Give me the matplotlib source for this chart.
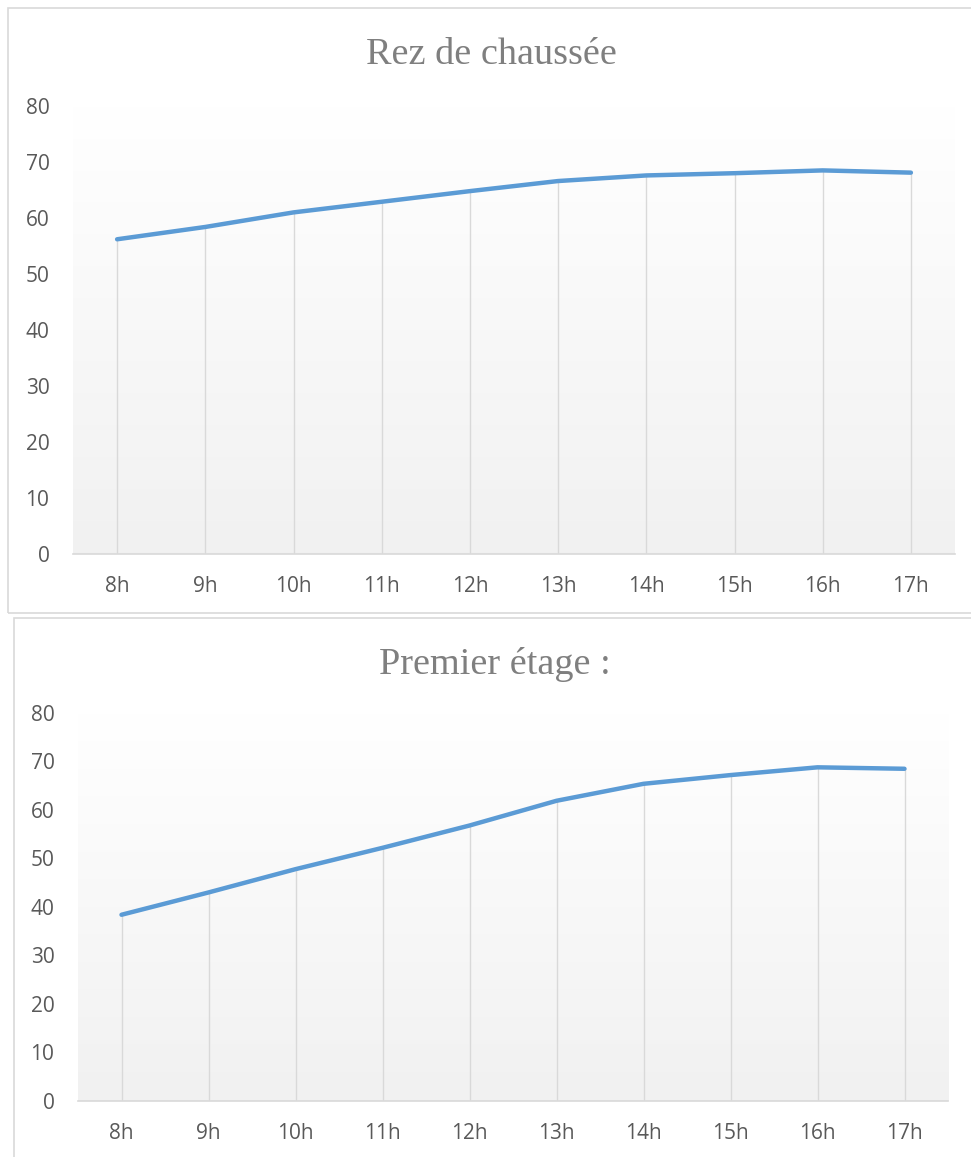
import numpy as np
import matplotlib
matplotlib.use('Agg')
import matplotlib.pyplot as plt
from matplotlib.patches import Rectangle

# --- data ---
hours = ['8h', '9h', '10h', '11h', '12h', '13h', '14h', '15h', '16h', '17h']
rez_de_chaussee = [56.2, 58.4, 61.0, 62.9, 64.8, 66.6, 67.6, 68.0, 68.5, 68.1]
premier_etage = [38.4, 43.0, 47.8, 52.2, 56.8, 61.9, 65.4, 67.2, 68.8, 68.5]
y_ticks = [0, 10, 20, 30, 40, 50, 60, 70, 80]

W, H = 971, 1157
LINE = '#5b9bd5'
GRID = '#d9d9d9'
TXT = '#595959'
TICK_FONT = ['Open Sans', 'DejaVu Sans']


def panel(fig, x0, y0, x1, y1):
    # chart-area frame, pixel coords from top-left
    fig.patches.append(Rectangle((x0 / W, 1 - y1 / H), (x1 - x0) / W, (y1 - y0) / H,
                                 transform=fig.transFigure, fill=False,
                                 edgecolor=GRID, linewidth=1.2))


def draw(ax, values, title, title_xy):
    x = np.arange(len(hours))
    # soft vertical gradient in the plot area
    grad = np.linspace(1.0, 0.945, 256).reshape(-1, 1)
    ax.imshow(np.dstack([grad, grad, grad]), extent=[0, 1, 0, 1], transform=ax.transAxes,
              aspect='auto', zorder=0, interpolation='bilinear')
    ax.vlines(x, 0, values, color=GRID, linewidth=1, zorder=1)
    ax.plot(x, values, color=LINE, linewidth=3.2, solid_capstyle='round',
            solid_joinstyle='round', zorder=3)
    ax.set_xlim(-0.5, len(hours) - 0.5)
    ax.set_ylim(0, 80)
    ax.set_xticks(x)
    ax.set_xticklabels(hours)
    ax.set_yticks(y_ticks)
    for s in ['top', 'right', 'left']:
        ax.spines[s].set_visible(False)
    ax.spines['bottom'].set_color(GRID)
    ax.spines['bottom'].set_linewidth(1.2)
    ax.tick_params(length=0, labelsize=15, labelcolor=TXT)
    ax.tick_params(axis='x', pad=16)
    ax.tick_params(axis='y', pad=17)
    for lab in ax.get_xticklabels() + ax.get_yticklabels():
        lab.set_family(TICK_FONT)
    # title placed on its baseline
    ax.figure.text(title_xy[0] / W, 1 - title_xy[1] / H, title, ha='center', va='baseline',
                   fontsize=27.5, color='#7f7f7f', family='Liberation Serif')


fig = plt.figure(figsize=(W / 100, H / 100), dpi=100, facecolor='white')

panel(fig, 8, 8, 975, 613)
panel(fig, 14, 618, 975, 1162)

ax1 = fig.add_axes([73 / W, 1 - 554 / H, (955 - 73) / W, (554 - 106) / H])
draw(ax1, rez_de_chaussee, 'Rez de chaussée', (491, 64))

ax2 = fig.add_axes([78 / W, 1 - 1101 / H, (948 - 78) / W, (1101 - 713) / H])
draw(ax2, premier_etage, 'Premier étage :', (495, 674))

fig.savefig('out.png', dpi=100, facecolor='white')
